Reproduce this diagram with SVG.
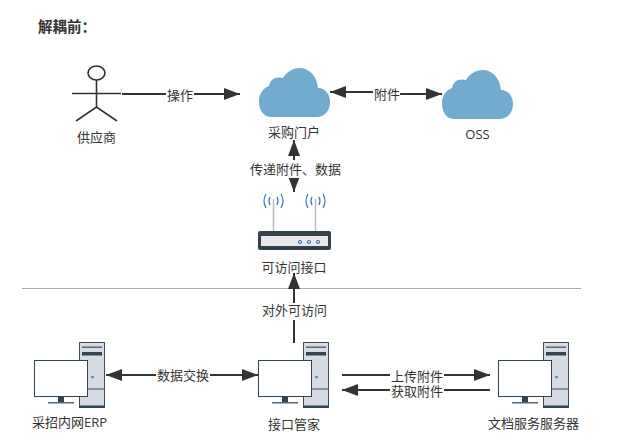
<svg xmlns="http://www.w3.org/2000/svg" width="624" height="442" viewBox="0 0 624 442">
<style>
text{font-family:"Open Sans","Noto Sans CJK SC","Noto Sans",sans-serif;font-size:13px;fill:#333;text-anchor:middle}
.c{stroke:#333;stroke-width:2;fill:none}
.lb{fill:#fff}
.fig{fill:none;stroke:#333;stroke-width:1.6}
.cloud{fill:#71abcf}
.tower{fill:#d5dbe1;stroke:#3d4f5c;stroke-width:1}
.dark{fill:#2f4557}
.mon{fill:#fff;stroke:#2f4557;stroke-width:1}
.wave{fill:none;stroke:#3f74c0;stroke-width:1.200}
</style>
<defs>
<marker id="a" markerUnits="userSpaceOnUse" markerWidth="16" markerHeight="12" refX="16" refY="6" orient="auto-start-reverse"><path d="M0 0L16 6L0 12L0 0Z" fill="#333"/></marker>
<path id="cl" class="cloud" d="M12 49C3 49 0 40 0 33C0 26 4 20 10 18C11 11 17 8 24 10C28 3 35 0 41 0C50 0 58 8 59 20C66 20 71 26 71 34C71 43 65 49 58 49Z"/>
<g id="pc">
<rect class="tower" x="79.500" y="342.500" width="25" height="65"/>
<rect class="dark" x="79" y="405.500" width="26" height="2.500"/>
<path d="M79.500 389H104.500" stroke="#3d4f5c" fill="none"/>
<rect x="82" y="346.500" width="20" height="1.500" fill="#56697a"/>
<rect class="dark" x="82" y="352" width="20" height="3.500"/>
<circle cx="92.500" cy="377" r="1.300" fill="#3f7fd0"/>
<rect class="dark" x="58" y="396" width="6" height="6"/>
<rect x="48" y="402" width="26" height="1.500" fill="#56697a"/>
<rect class="mon" x="34.500" y="360.500" width="53" height="36"/>
</g>
</defs>
<text x="38" y="32" style="font-weight:700;font-size:14.500px;text-anchor:start">解耦前：</text>
<path d="M22 288.500H581" stroke="#aaa" stroke-width="1" fill="none"/>
<g id="connectors">
<path class="c" d="M122 94H240" marker-end="url(#a)"/>
<path class="c" d="M330 92H372L386 94H442" marker-start="url(#a)" marker-end="url(#a)"/>
<path class="c" d="M294 140V192" marker-start="url(#a)" marker-end="url(#a)"/>
<path class="c" d="M294 343V273" marker-end="url(#a)"/>
<path class="c" d="M106 375H258" marker-start="url(#a)" marker-end="url(#a)"/>
<path class="c" d="M342 375H490" marker-end="url(#a)"/>
<path class="c" d="M490 390H342" marker-end="url(#a)"/>
</g>
<g id="edge-labels">
<rect class="lb" x="166" y="86" width="28" height="17"/><text x="180" y="100">操作</text>
<rect class="lb" x="373" y="85" width="27" height="18"/><text x="387" y="99">附件</text>
<rect class="lb" x="249" y="160" width="93" height="18"/><text x="295.500" y="174">传递附件、数据</text>
<rect class="lb" x="261" y="303" width="67" height="17"/><text x="294.500" y="315">对外可访问</text>
<rect class="lb" x="156" y="367" width="54" height="17"/><text x="183" y="380">数据交换</text>
<rect class="lb" x="390" y="367" width="54" height="15"/><text x="417" y="381">上传附件</text>
<rect class="lb" x="390" y="383" width="54" height="15"/><text x="417" y="396">获取附件</text>
</g>
<g id="supplier">
<ellipse class="fig" cx="96.500" cy="73" rx="8.500" ry="7"/>
<path class="fig" d="M96.500 80V107M72 93.500H121M76 121L96.500 107L117 121"/>
<text x="96.500" y="142">供应商</text>
</g>
<g id="portal"><use href="#cl" x="259" y="68"/><text x="294" y="137">采购门户</text></g>
<g id="oss"><use href="#cl" x="442" y="70"/><text x="477.500" y="139">OSS</text></g>
<g id="gateway">
<path d="M273.500 199V232M315.500 199V232" stroke="#bbb" stroke-width="1.500" fill="none"/>
<g class="wave">
<path d="M270 197Q268 201 270 205M277 197Q279 201 277 205M266 194Q262 201 266 208M281 194Q285 201 281 208"/>
<path d="M312 197Q310 201 312 205M319 197Q321 201 319 205M308 194Q304 201 308 208M323 194Q327 201 323 208"/>
</g>
<rect x="258" y="231" width="73" height="19" rx="2" fill="#36424a"/>
<rect x="261" y="236" width="67" height="10" fill="#e8e8ea"/>
<circle class="wave" cx="300" cy="242" r="1.500"/><circle class="wave" cx="309" cy="242" r="1.500"/><circle class="wave" cx="318" cy="242" r="1.500"/>
<text x="294" y="272">可访问接口</text>
</g>
<g id="erp"><use href="#pc"/><text x="69.500" y="427">采招内网ERP</text></g>
<g id="manager"><use href="#pc" x="224"/><text x="294" y="429">接口管家</text></g>
<g id="fileserver"><use href="#pc" x="464"/><text x="533.500" y="428">文档服务服务器</text></g>
</svg>
